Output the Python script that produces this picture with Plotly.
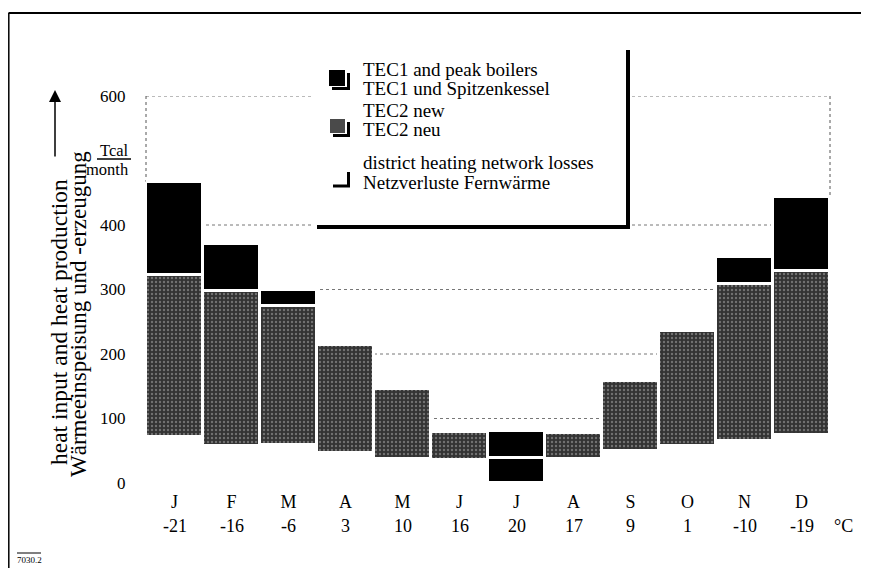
import plotly.graph_objects as go

# ---------------- data ----------------
months = ["Jan", "Feb", "Mar", "Apr", "May", "Jun", "Jul", "Aug", "Sep", "Oct", "Nov", "Dec"]
month_labels = ["J", "F", "M", "A", "M", "J", "J", "A", "S", "O", "N", "D"]
temps = ["-21", "-16", "-6", "3", "10", "16", "20", "17", "9", "1", "-10", "-19"]

# Tcal / month
network_losses = [72, 58, 59, 46, 37, 36, 38, 37, 49, 57, 65, 75]
tec2_new = [251, 239, 216, 168, 109, 43, 0, 41, 109, 178, 243, 253]
tec1_peak = [144, 73, 25, 0, 0, 0, 42, 0, 0, 0, 43, 116]
losses_covered_by_tec1 = ["Jul"]   # month in which losses are drawn as TEC1 (black)

y_tickvals = [0, 100, 200, 300, 400, 600]
y_ticktext = ["0", "100", "200", "300", "400", "600"]
grid_levels = [100, 200, 300, 400, 600]

# ---------------- geometry (the page body adds an 8px offset) ----------------
OFF = 8
W, H = 861, 560
L_M, R_M, T_M, B_M = 138, 39, 88, 85
PW, PH = W - L_M - R_M, H - T_M - B_M


def px(x):  # screen pixel -> paper
    return (x - OFF - L_M) / PW


def py(y):
    return (H - B_M - (y - OFF)) / PH


SERIF = "Liberation Serif, Times New Roman, serif"


def nz(v):
    return [x if x else None for x in v]


fig = go.Figure()

loss_colors = ["black" if m in losses_covered_by_tec1 else "white" for m in months]
fig.add_trace(go.Bar(
    x=months, y=network_losses, name="district heating network losses",
    marker=dict(color=loss_colors, line=dict(color="white", width=3)),
    showlegend=False,
))
fig.add_trace(go.Bar(
    x=months, y=nz(tec2_new), name="TEC2 new",
    marker=dict(color="#333333",
                pattern=dict(shape=".", fgcolor="#b0b0b0", size=4, solidity=0.28),
                line=dict(color="white", width=3)),
    showlegend=False,
))
fig.add_trace(go.Bar(
    x=months, y=nz(tec1_peak), name="TEC1 and peak boilers",
    marker=dict(color="black", line=dict(color="white", width=3)),
    showlegend=False,
))

shapes = []
for g in grid_levels:
    shapes.append(dict(type="line", xref="paper", yref="y", x0=0, x1=1, y0=g, y1=g,
                       line=dict(color="#777777", width=1, dash="dot"), layer="below"))
tot_first = network_losses[0] + tec2_new[0] + tec1_peak[0]
tot_last = network_losses[-1] + tec2_new[-1] + tec1_peak[-1]
shapes.append(dict(type="line", xref="paper", yref="y", x0=0, x1=0, y0=600, y1=tot_first,
                   line=dict(color="#555555", width=1, dash="dot"), layer="below"))
shapes.append(dict(type="line", xref="paper", yref="y", x0=1, x1=1, y0=600, y1=tot_last,
                   line=dict(color="#555555", width=1, dash="dot"), layer="below"))

# legend box
shapes.append(dict(type="rect", xref="paper", yref="paper",
                   x0=px(312), x1=px(627), y0=py(226), y1=py(50),
                   fillcolor="white", line=dict(width=0), layer="above"))
shapes.append(dict(type="line", xref="paper", yref="paper",
                   x0=px(628), x1=px(628), y0=py(50), y1=py(229),
                   line=dict(color="black", width=4)))
shapes.append(dict(type="line", xref="paper", yref="paper",
                   x0=px(317), x1=px(630), y0=py(227), y1=py(227),
                   line=dict(color="black", width=4)))


def l_shadow(x0, x1, y0, y1):
    return [
        dict(type="line", xref="paper", yref="paper", x0=px(x1), x1=px(x1), y0=py(y0), y1=py(y1),
             line=dict(color="black", width=3)),
        dict(type="line", xref="paper", yref="paper", x0=px(x0), x1=px(x1 + 1.5), y0=py(y1), y1=py(y1),
             line=dict(color="black", width=3)),
    ]


shapes.append(dict(type="rect", xref="paper", yref="paper", x0=px(329), x1=px(345), y0=py(86), y1=py(70),
                   fillcolor="black", line=dict(width=0)))
shapes += l_shadow(332, 348.5, 73, 88.5)
shapes.append(dict(type="rect", xref="paper", yref="paper", x0=px(330), x1=px(345), y0=py(133), y1=py(119),
                   fillcolor="#4a4a4a", line=dict(width=0)))
shapes += l_shadow(333, 348.5, 122, 135.5)
shapes += l_shadow(333, 348.5, 172, 186)

# page frame
shapes.append(dict(type="line", xref="paper", yref="paper", x0=px(8.5), x1=px(869), y0=py(13), y1=py(13),
                   line=dict(color="black", width=2)))
shapes.append(dict(type="line", xref="paper", yref="paper", x0=px(8.8), x1=px(8.8), y0=py(13), y1=py(568),
                   line=dict(color="black", width=1.5)))
# Tcal / month fraction bar
shapes.append(dict(type="line", xref="paper", yref="paper", x0=px(97), x1=px(131), y0=py(159), y1=py(159),
                   line=dict(color="black", width=1.5)))
# figure number overline
shapes.append(dict(type="line", xref="paper", yref="paper", x0=px(17), x1=px(41), y0=py(553), y1=py(553),
                   line=dict(color="black", width=1)))

annotations = []


def txt(x, y, s, size=19, xanchor="left", angle=0):
    annotations.append(dict(xref="paper", yref="paper", x=px(x), y=py(y), text=s, showarrow=False,
                            xanchor=xanchor, yanchor="middle", textangle=angle,
                            font=dict(family=SERIF, size=size, color="black")))


txt(361, 70, "TEC1 and peak boilers")
txt(361, 88, "TEC1 und Spitzenkessel")
txt(361, 111, "TEC2 new")
txt(361, 129, "TEC2 neu")
txt(361, 162, "district heating network losses")
txt(361, 182, "Netzverluste Fernwärme")

txt(131, 150, "Tcal", size=16.5, xanchor="right")
txt(131, 169, "month", size=16.5, xanchor="right")

txt(59, 322, "heat input and heat production", size=23.5, xanchor="center", angle=-90)
txt(78, 314, "Wärmeeinspeisung und -erzeugung", size=23, xanchor="center", angle=-90)

for m, t in zip(months, temps):
    annotations.append(dict(xref="x", yref="paper", x=m, y=py(526), text=t, showarrow=False,
                            xanchor="center", yanchor="middle",
                            font=dict(family=SERIF, size=18, color="black")))
txt(843, 526, "°C", size=18, xanchor="center")

txt(29, 560, "7030.2", size=9, xanchor="center")

annotations.append(dict(xref="paper", yref="paper", x=px(55), y=py(90), ax=0, ay=68,
                        showarrow=True, arrowhead=2, arrowsize=1.6, arrowwidth=1.5,
                        arrowcolor="black", text=""))

fig.update_layout(
    width=W, height=H,
    margin=dict(l=L_M, r=R_M, t=T_M, b=B_M),
    paper_bgcolor="white", plot_bgcolor="white",
    barmode="stack", bargap=0,
    shapes=shapes, annotations=annotations,
    showlegend=False,
    font=dict(family=SERIF, color="black"),
)
fig.update_xaxes(
    type="category", categoryorder="array", categoryarray=months,
    tickvals=months, ticktext=month_labels, range=[-0.5, 11.5],
    showgrid=False, zeroline=False, showline=False,
    ticks="outside", ticklen=2, tickcolor="rgba(0,0,0,0)",
    tickfont=dict(family=SERIF, size=18, color="black"),
)
fig.update_yaxes(
    range=[0, 600], tickvals=y_tickvals, ticktext=y_ticktext,
    showgrid=False, zeroline=False, showline=False,
    ticks="outside", ticklen=16, tickcolor="rgba(0,0,0,0)",
    tickfont=dict(family=SERIF, size=17, color="black"),
)

fig.write_html("out.html")
